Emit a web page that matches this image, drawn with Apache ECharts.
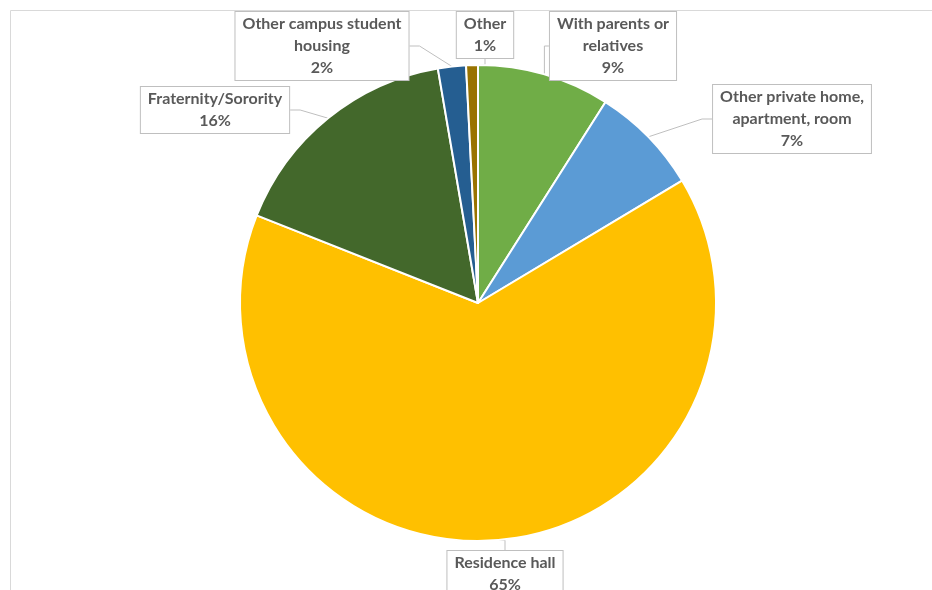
<!DOCTYPE html>
<html>
<head>
<meta charset="utf-8">
<script src="https://cdn.jsdelivr.net/npm/echarts@6/dist/echarts.min.js"></script>
<style>
html,body{margin:0;padding:0;background:#fff;}
#chart{width:932px;height:590px;}
</style>
</head>
<body>
<div id="chart"></div>
<script>
// Data
const categories = ['With parents or relatives', 'Other private home, apartment, room', 'Residence hall', 'Fraternity/Sorority', 'Other campus student housing', 'Other'];
const labelTexts = ['With parents or\nrelatives', 'Other private home,\napartment, room', 'Residence hall', 'Fraternity/Sorority', 'Other campus student\nhousing', 'Other'];
const values = [9.0, 7.4, 64.6, 16.3, 1.9, 0.8];
const colors = ['#70AD47', '#5B9BD5', '#FFC000', '#43682B', '#255E91', '#997300'];

// label box anchor (top-center) layout
const labelAnchors = [
  [613, 12], [792, 85], [505, 551], [215, 87], [322, 12], [485, 12]
];

const chart = echarts.init(document.getElementById('chart'));
chart.setOption({
  animation: false,
  graphic: [{
    type: 'rect',
    shape: { x: 10.5, y: 10.5, width: 960, height: 620 },
    style: { fill: 'none', stroke: '#d9d9d9', lineWidth: 1 },
    silent: true
  }],
  series: [{
    type: 'pie',
    center: [478, 303],
    radius: 238,
    startAngle: 90,
    clockwise: true,
    percentPrecision: 0,
    avoidLabelOverlap: false,
    itemStyle: { borderColor: '#ffffff', borderWidth: 2 },
    label: {
      show: true,
      position: 'outside',
      formatter: p => labelTexts[p.dataIndex] + '\n' + p.percent + '%',
      fontFamily: 'Lato, "Open Sans", sans-serif',
      fontWeight: 'bold',
      fontSize: 16,
      lineHeight: 22,
      color: '#595959',
      align: 'center',
      backgroundColor: '#ffffff',
      borderColor: '#bfbfbf',
      borderWidth: 1,
      padding: [1, 7, 1, 7]
    },
    labelLine: {
      show: true,
      length: 10,
      length2: 10,
      lineStyle: { color: '#bfbfbf', width: 1 }
    },
    labelLayout: function (params) {
      const a = labelAnchors[params.dataIndex];
      return { x: a[0], y: a[1], align: 'center', verticalAlign: 'top', hideOverlap: false };
    },
    data: categories.map((c, i) => ({ name: c, value: values[i], itemStyle: { color: colors[i] } }))
  }]
});
</script>
</body>
</html>
